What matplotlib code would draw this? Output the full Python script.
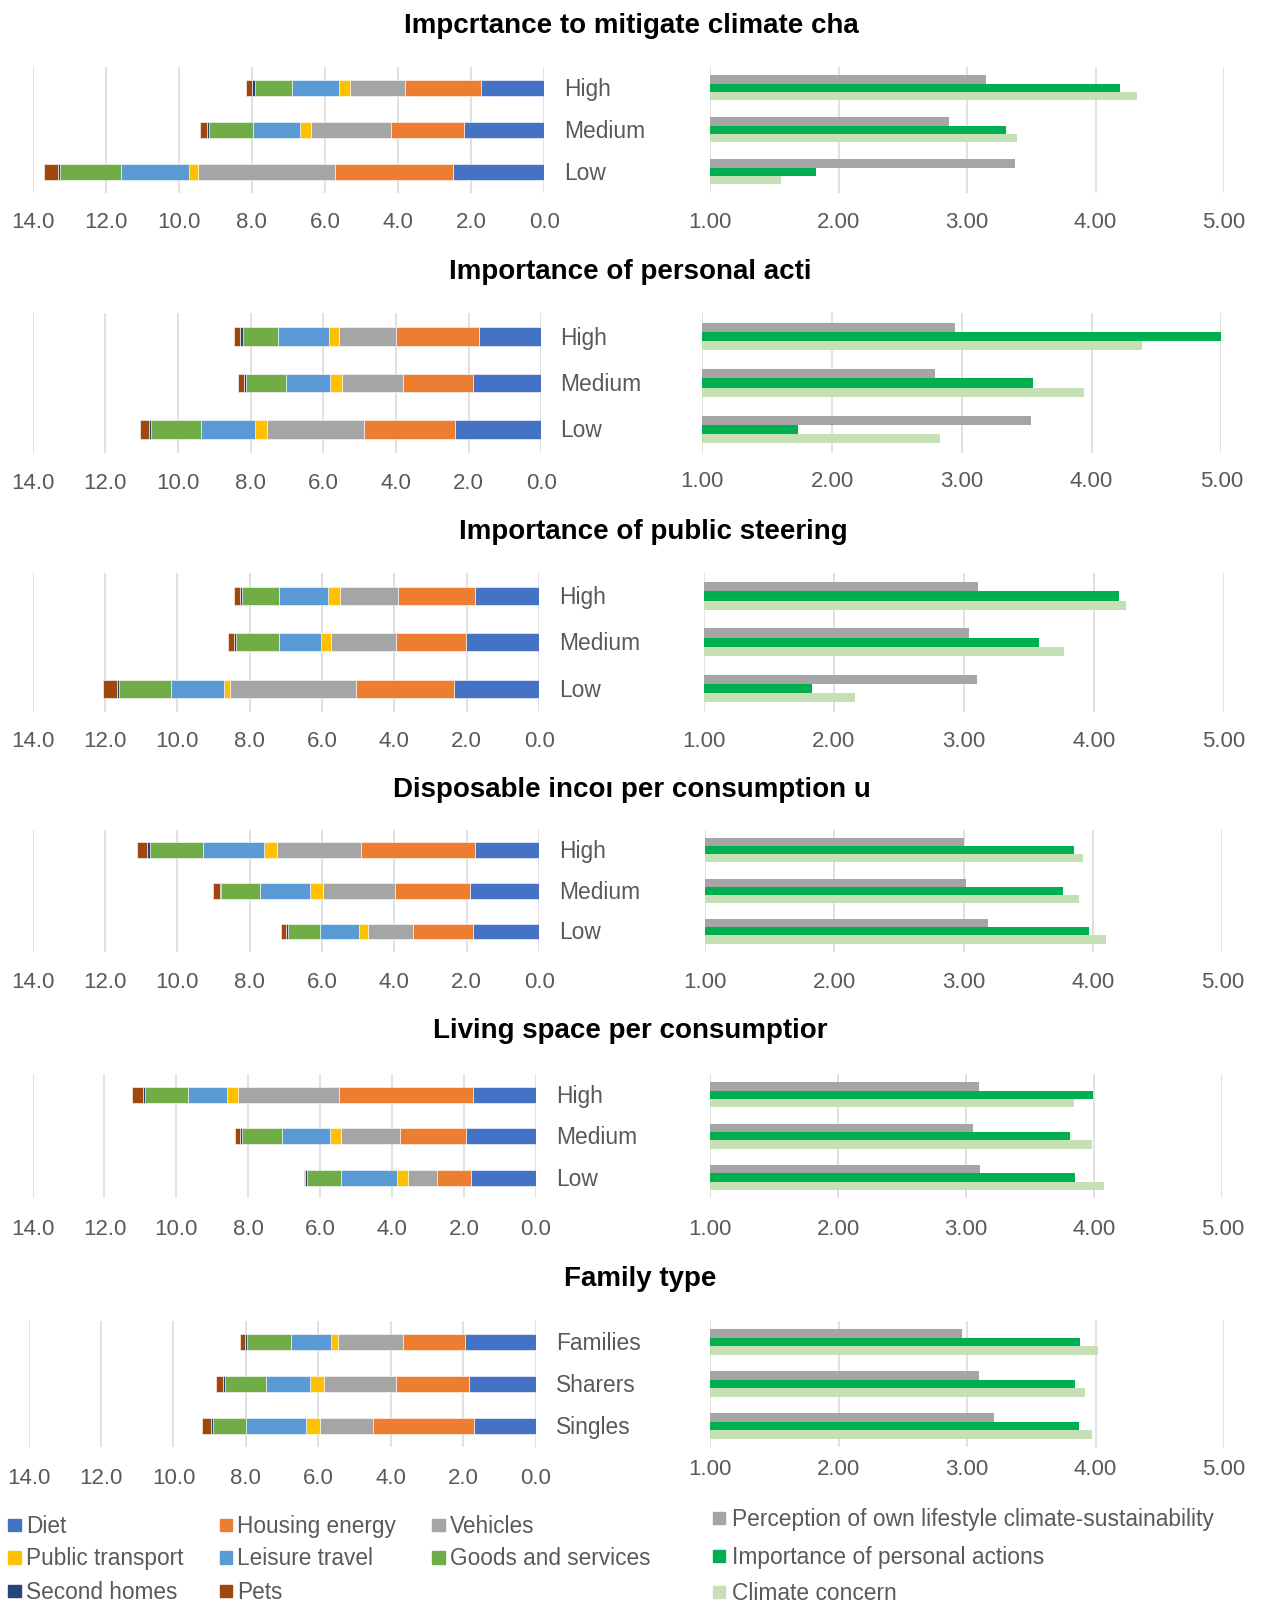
import matplotlib
matplotlib.use('Agg')
import matplotlib.pyplot as plt
import matplotlib.transforms as mtransforms
from matplotlib.patches import Rectangle
import numpy as np

plt.rcParams['font.family'] = ['Liberation Sans', 'DejaVu Sans']

# footprint components, stacked from 0 outwards (tCO2e per consumption unit)
footprint_labels = ['Diet', 'Housing energy', 'Vehicles', 'Public transport',
                    'Leisure travel', 'Goods and services', 'Second homes', 'Pets']
footprint_colors = ['#4472C4', '#ED7D31', '#A5A5A5', '#FFC000',
                    '#5B9BD5', '#70AD47', '#264478', '#9E480E']

attitude_labels = ['Perception of own lifestyle climate-sustainability',
                   'Importance of personal actions', 'Climate concern']
attitude_colors = ['#A5A5A5', '#00B050', '#C5E0B4']

levels = ['High', 'Medium', 'Low']
family_types = ['Families', 'Sharers', 'Singles']

# --- Importance to mitigate climate change
mitigation_fp = [[1.73, 2.09, 1.49, 0.30, 1.30, 1.01, 0.09, 0.14],
                 [2.18, 2.00, 2.21, 0.30, 1.27, 1.21, 0.05, 0.19],
                 [2.50, 3.23, 3.74, 0.26, 1.85, 1.68, 0.06, 0.37]]
mitigation_perception = [3.15, 2.86, 3.37]
mitigation_personal = [4.19, 3.30, 1.82]
mitigation_concern = [4.32, 3.39, 1.55]

# --- Importance of personal actions
personal_fp = [[1.72, 2.27, 1.57, 0.29, 1.39, 0.97, 0.08, 0.18],
               [1.87, 1.93, 1.69, 0.33, 1.21, 1.09, 0.07, 0.15],
               [2.38, 2.49, 2.68, 0.33, 1.50, 1.37, 0.05, 0.24]]
personal_perception = [2.95, 2.79, 3.53]
personal_personal = [5.00, 3.55, 1.74]
personal_concern = [4.39, 3.94, 2.83]

# --- Importance of public steering
steering_fp = [[1.76, 2.13, 1.60, 0.34, 1.35, 1.03, 0.05, 0.16],
               [2.03, 1.93, 1.78, 0.29, 1.17, 1.17, 0.05, 0.18],
               [2.34, 2.72, 3.47, 0.18, 1.46, 1.44, 0.07, 0.38]]
steering_perception = [3.11, 3.04, 3.10]
steering_personal = [4.19, 3.58, 1.83]
steering_concern = [4.25, 3.77, 2.16]

# --- Disposable income per consumption unit
income_fp = [[1.78, 3.15, 2.32, 0.36, 1.69, 1.46, 0.07, 0.29],
             [1.91, 2.07, 1.98, 0.36, 1.40, 1.06, 0.04, 0.18],
             [1.82, 1.67, 1.24, 0.24, 1.08, 0.88, 0.07, 0.13]]
income_perception = [3.00, 3.02, 3.19]
income_personal = [3.85, 3.77, 3.97]
income_concern = [3.92, 3.89, 4.10]

# --- Living space per consumption unit
space_fp = [[1.74, 3.74, 2.81, 0.30, 1.08, 1.20, 0.05, 0.32],
            [1.93, 1.85, 1.63, 0.32, 1.34, 1.11, 0.04, 0.16],
            [1.79, 0.95, 0.82, 0.31, 1.54, 0.96, 0.04, 0.05]]
space_perception = [3.10, 3.05, 3.11]
space_personal = [3.99, 3.81, 3.85]
space_concern = [3.84, 3.98, 4.08]

# --- Family type
family_fp = [[1.96, 1.70, 1.80, 0.20, 1.10, 1.22, 0.04, 0.14],
             [1.84, 2.03, 1.97, 0.38, 1.22, 1.14, 0.05, 0.20],
             [1.71, 2.78, 1.47, 0.38, 1.66, 0.90, 0.07, 0.24]]
family_perception = [2.96, 3.09, 3.21]
family_personal = [3.88, 3.84, 3.87]
family_concern = [4.02, 3.92, 3.97]

panels = [
    ('Impcrtance to mitigate climate cha', levels, mitigation_fp,
     mitigation_perception, mitigation_personal, mitigation_concern),
    ('Importance of personal acti', levels, personal_fp,
     personal_perception, personal_personal, personal_concern),
    ('Importance of public steering', levels, steering_fp,
     steering_perception, steering_personal, steering_concern),
    ('Disposable incoı per consumption u', levels, income_fp,
     income_perception, income_personal, income_concern),
    ('Living space per consumptior', levels, space_fp,
     space_perception, space_personal, space_concern),
    ('Family type', family_types, family_fp,
     family_perception, family_personal, family_concern),
]

# layout of each row in pixels: title x/y, left axis (x at 14, x at 0),
# right axis (x at 1, x at 5), top, bottom, tick label y (left, right), category x
layout = [
    dict(tx=404, ty=23, l=(32.7, 544.1), r=(710.2, 1224.1), top=66.7, bot=192.7, lab=(220, 220), cx=564),
    dict(tx=449, ty=269, l=(32.7, 541.2), r=(702.2, 1221.4), top=313.3, bot=452.7, lab=(481, 479.5), cx=560),
    dict(tx=459, ty=529, l=(32.6, 539.1), r=(703.6, 1224.0), top=573, bot=711.7, lab=(739, 739), cx=559),
    dict(tx=393, ty=787, l=(32.6, 539.1), r=(705.2, 1222.3), top=830, bot=951.7, lab=(980, 980), cx=559),
    dict(tx=433, ty=1028, l=(32.6, 535.8), r=(710.1, 1222.3), top=1074, bot=1198.3, lab=(1226.7, 1226.7), cx=556),
    dict(tx=564, ty=1276, l=(28.5, 535.8), r=(710.1, 1224.0), top=1321, bot=1447, lab=(1476, 1467), cx=556),
]

W, H = 1277, 1604
TEXT = '#595959'
GRID = '#D9D9D9'

fig = plt.figure(figsize=(W / 100, H / 100), dpi=100)


def box(x0, x1, top, bot):
    return [x0 / W, 1 - bot / H, (x1 - x0) / W, (bot - top) / H]


def style(ax, pad):
    for s in ax.spines.values():
        s.set_visible(False)
    ax.set_yticks([])
    ax.grid(axis='x', color=GRID, linewidth=1.1)
    ax.set_axisbelow(True)
    ax.tick_params(axis='x', length=0, pad=pad, labelsize=16, labelcolor=TEXT)


ypos = np.array([2, 1, 0])

for (title, cats, fp, perception, personal, concern), lay in zip(panels, layout):
    fp = np.array(fp)
    starts = np.cumsum(fp, axis=1) - fp

    # stacked footprint bars, growing to the left
    axl = fig.add_axes(box(lay['l'][0], lay['l'][1], lay['top'], lay['bot']))
    for k, color in enumerate(footprint_colors):
        axl.barh(ypos, fp[:, k], left=starts[:, k], height=0.39, color=color,
                 edgecolor='white', linewidth=0.4)
    axl.set_xlim(14, 0)
    axl.set_ylim(-0.5, 2.5)
    axl.set_xticks(np.arange(0, 15, 2))
    axl.set_xticklabels(['%.1f' % v for v in np.arange(0, 15, 2)])
    style(axl, (lay['lab'][0] - 8 - lay['bot']) / 1.389)

    # attitude scores
    axr = fig.add_axes(box(lay['r'][0], lay['r'][1], lay['top'], lay['bot']))
    axr.barh(ypos + 0.2, perception, height=0.2, color=attitude_colors[0])
    axr.barh(ypos, personal, height=0.2, color=attitude_colors[1])
    axr.barh(ypos - 0.2, concern, height=0.2, color=attitude_colors[2])
    axr.set_xlim(1, 5)
    axr.set_ylim(-0.5, 2.5)
    axr.set_xticks([1, 2, 3, 4, 5])
    axr.set_xticklabels(['%.2f' % v for v in [1, 2, 3, 4, 5]])
    style(axr, (lay['lab'][1] - 8 - lay['bot']) / 1.389)

    # category names between the two panels
    trans = mtransforms.blended_transform_factory(fig.transFigure, axl.transData)
    trans = trans + mtransforms.ScaledTranslation(0, -8 / 100, fig.dpi_scale_trans)
    for y, c in zip(ypos, cats):
        fig.text(lay['cx'] / W, y, c, transform=trans, fontsize=16.4,
                 color=TEXT, va='baseline', ha='left')

    fig.text(lay['tx'] / W, 1 - (lay['ty'] + 10) / H, title, fontsize=20,
             fontweight='bold', color='black', va='baseline', ha='left')

# legends
col_x = [8.4, 219.7, 432.2]
row_y = [1525, 1557.3, 1590.7]
for i, (lab, color) in enumerate(zip(footprint_labels, footprint_colors)):
    x, y = col_x[i % 3], row_y[i // 3]
    fig.add_artist(Rectangle((x / W, 1 - (y + 6.2) / H), 12.6 / W, 12.4 / H,
                             transform=fig.transFigure, color=color))
    fig.text((x + 17.7) / W, 1 - (y + 8) / H, lab, fontsize=16.3, color=TEXT,
             va='baseline', ha='left')

for lab, color, y in zip(attitude_labels, attitude_colors, [1518.3, 1555.7, 1592.3]):
    fig.add_artist(Rectangle((713 / W, 1 - (y + 6) / H), 12 / W, 12 / H,
                             transform=fig.transFigure, color=color))
    fig.text(732 / W, 1 - (y + 8) / H, lab, fontsize=16.4, color=TEXT,
             va='baseline', ha='left')

fig.savefig('out.png', dpi=100, facecolor='white')
